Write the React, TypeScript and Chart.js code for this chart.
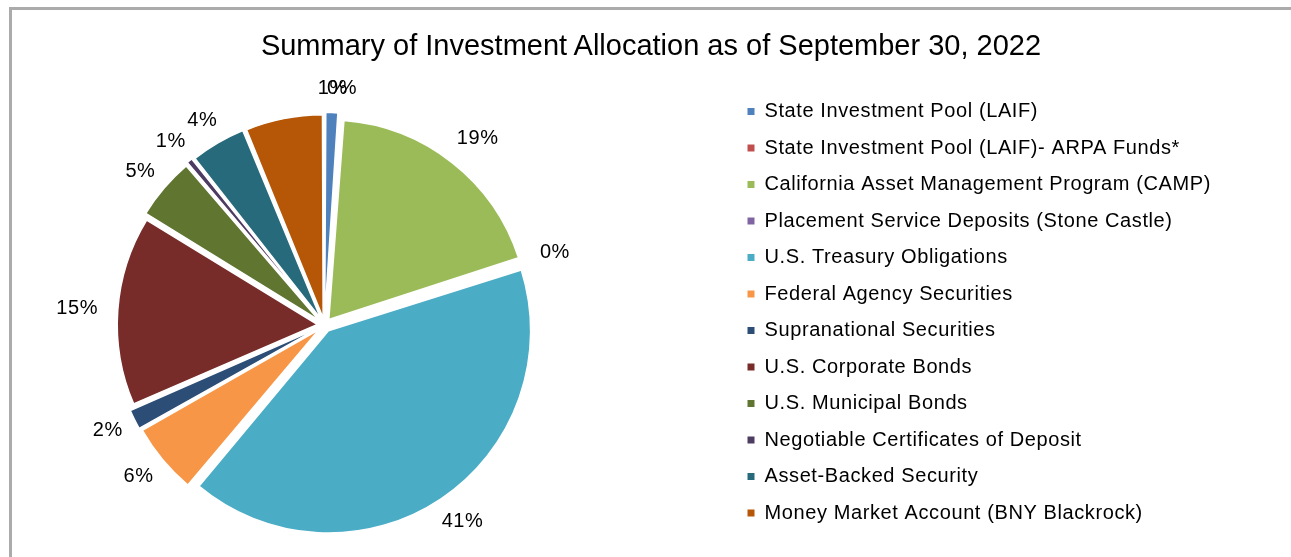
import React, { useEffect, useRef } from "react";
import { Chart, registerables } from "chart.js";

Chart.register(...registerables);

// ---------- data ----------
const chartTitle = "Summary of Investment Allocation as of September 30, 2022";
const categories = [
  "State Investment Pool (LAIF)",
  "State Investment Pool (LAIF)- ARPA Funds*",
  "California Asset Management Program (CAMP)",
  "Placement Service Deposits (Stone Castle)",
  "U.S. Treasury Obligations",
  "Federal Agency Securities",
  "Supranational Securities",
  "U.S. Corporate Bonds",
  "U.S. Municipal Bonds",
  "Negotiable Certificates of Deposit",
  "Asset-Backed Security",
  "Money Market Account (BNY Blackrock)",
];
const allocation = [1.1, 0.1, 18.8, 0.1, 41.0, 5.7, 1.7, 15.25, 5.0, 0.6, 4.45, 6.2];
const showLabel = [true, true, true, true, true, true, true, true, true, true, true, false];
const sliceColors = [
  "#4f81bd", "#c0504d", "#9bbb59", "#8064a2", "#4bacc6", "#f79646",
  "#2c4d75", "#772c2a", "#5f7530", "#4d3b62", "#276a7c", "#b65708",
];

// ---------- styling / layout constants ----------
const W = 1291;
const H = 557;
const FONT = '"Liberation Sans", Arial, sans-serif';
const LEGEND_SIZE = 20;
const LEGEND_LS = "0.6px";
const LABEL_SIZE = 20;
const TITLE_SIZE = 29;
const BOX = 7;
const LEG_PAD = 16.5;
const CENTER_X = 324.5; // page coords
const CENTER_Y = 325;
const MARKER_X = 747.5; // page coords
const SHIFT = Math.round(MARKER_X - LEG_PAD - 2 * CENTER_X); // canvas extends this far left of the page
const CANVAS_W = W + SHIFT;
const PAD_TOP = 85;
const CANVAS_H = 2 * CENTER_Y - PAD_TOP;
const RADIUS = 199;
const OFFSET = 28; // chart.js translates by offset/4
const LABEL_GAP = 21;

function measureMaxText(): number {
  const c = document.createElement("canvas");
  const ctx = c.getContext("2d") as any;
  ctx.font = `${LEGEND_SIZE}px ${FONT}`;
  ctx.letterSpacing = LEGEND_LS;
  let m = 0;
  for (const t of categories) m = Math.max(m, ctx.measureText(t).width);
  return m;
}

const spacingPlugin = {
  id: "letterSpacing",
  beforeLayout(chart: any) {
    chart.ctx.letterSpacing = LEGEND_LS;
  },
  beforeDraw(chart: any) {
    chart.ctx.letterSpacing = LEGEND_LS;
  },
};

const pctLabels = {
  id: "pctLabels",
  afterDatasetsDraw(chart: any) {
    const ctx = chart.ctx;
    const meta = chart.getDatasetMeta(0);
    const data = chart.data.datasets[0].data as number[];
    const total = data.reduce((a, b) => a + b, 0);
    ctx.save();
    ctx.font = `${LABEL_SIZE}px ${FONT}`;
    ctx.letterSpacing = LEGEND_LS;
    ctx.fillStyle = "#000000";
    ctx.textAlign = "center";
    ctx.textBaseline = "middle";
    meta.data.forEach((arc: any, i: number) => {
      if (!showLabel[i]) return;
      const p = arc.getProps(["x", "y", "startAngle", "endAngle", "outerRadius"], true);
      const mid = (p.startAngle + p.endAngle) / 2;
      const txt = Math.round((data[i] / total) * 100) + "%";
      const w = ctx.measureText(txt).width;
      const cos = Math.cos(mid);
      const sin = Math.sin(mid);
      const r = p.outerRadius + OFFSET / 4 + LABEL_GAP;
      const x = p.x + cos * r + (cos * w) / 2;
      const y = p.y + sin * r + (sin * LABEL_SIZE) / 2;
      ctx.fillText(txt, x, y);
    });
    ctx.restore();
  },
};

export default function App() {
  const canvasRef = useRef<HTMLCanvasElement | null>(null);

  useEffect(() => {
    if (!canvasRef.current) return;
    const maxText = measureMaxText();
    const legendLeft = MARKER_X - LEG_PAD + SHIFT; // canvas coords
    const legendWidth = LEG_PAD + BOX + LEGEND_SIZE / 2 + maxText + 10;
    const padRight = Math.max(CANVAS_W - legendLeft - legendWidth, 0);

    const chart = new Chart(canvasRef.current, {
      type: "pie",
      data: {
        labels: categories,
        datasets: [
          {
            data: allocation,
            backgroundColor: sliceColors,
            borderColor: "#ffffff",
            borderWidth: 1.5,
            offset: OFFSET,
            hoverOffset: OFFSET,
            radius: RADIUS,
          } as any,
        ],
      },
      options: {
        animation: false,
        responsive: false,
        devicePixelRatio: 1,
        layout: {
          padding: { left: 0, right: padRight, top: PAD_TOP, bottom: 0 },
        },
        plugins: {
          title: { display: false },
          tooltip: { enabled: false },
          legend: {
            display: true,
            position: "right",
            align: "start",
            labels: {
              boxWidth: BOX,
              boxHeight: BOX,
              padding: LEG_PAD,
              color: "#000000",
              font: { size: LEGEND_SIZE, family: FONT },
              generateLabels: (ch: any) => {
                const base = (Chart as any).overrides.pie.plugins.legend.labels.generateLabels(ch);
                return base.map((it: any) => ({ ...it, lineWidth: 0, strokeStyle: "rgba(0,0,0,0)" }));
              },
            },
          },
        },
      } as any,
      plugins: [spacingPlugin, pctLabels],
    });
    return () => chart.destroy();
  }, []);

  return (
    <div
      style={{
        position: "fixed",
        left: 0,
        top: 0,
        width: W,
        height: H,
        overflow: "hidden",
        background: "#ffffff",
      }}
    >
      <div
        style={{
          position: "absolute",
          left: 9,
          top: 7,
          width: 1400,
          height: 700,
          border: "3px solid #ababab",
          boxSizing: "border-box",
        }}
      />
      <canvas
        ref={canvasRef}
        width={CANVAS_W}
        height={CANVAS_H}
        style={{ position: "absolute", left: -SHIFT, top: 0, width: CANVAS_W, height: CANVAS_H }}
      />
      <div
        style={{
          position: "absolute",
          left: 0,
          top: 30,
          width: 1302,
          height: 30,
          lineHeight: "30px",
          textAlign: "center",
          fontFamily: FONT,
          fontSize: TITLE_SIZE,
          color: "#000000",
          whiteSpace: "nowrap",
        }}
      >
        {chartTitle}
      </div>
    </div>
  );
}
